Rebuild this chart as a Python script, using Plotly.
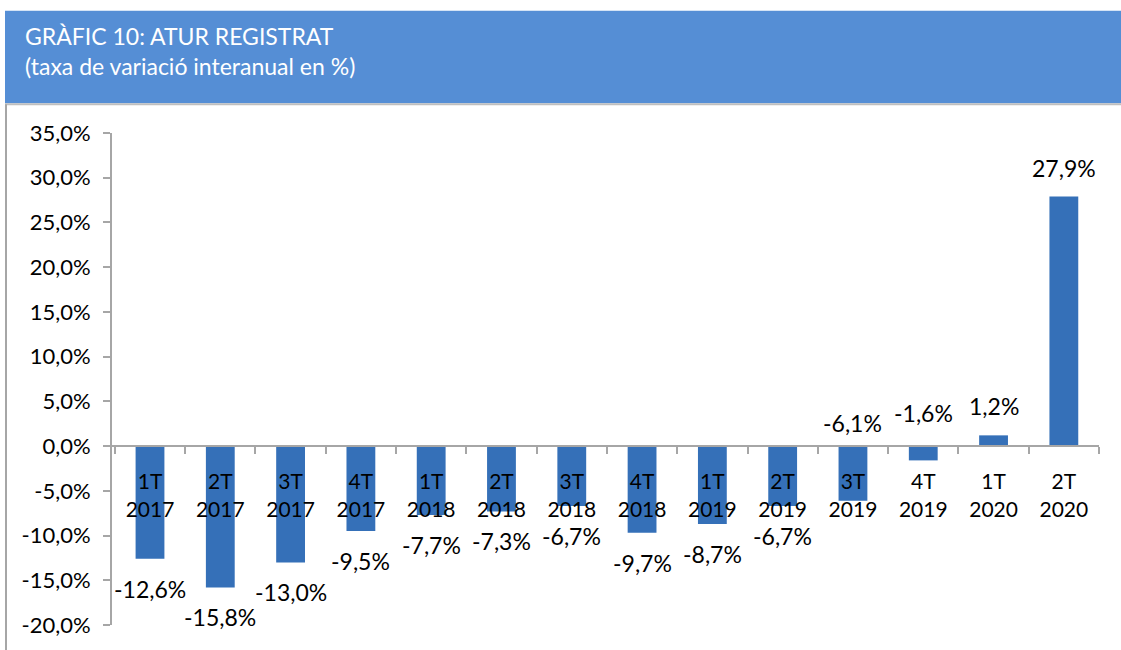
import plotly.graph_objects as go

quarters = ["1T", "2T", "3T", "4T", "1T", "2T", "3T", "4T", "1T", "2T", "3T", "4T", "1T", "2T"]
years = ["2017", "2017", "2017", "2017", "2018", "2018", "2018", "2018",
         "2019", "2019", "2019", "2019", "2020", "2020"]
values = [-12.6, -15.8, -13.0, -9.5, -7.7, -7.3, -6.7, -9.7, -8.7, -6.7, -6.1, -1.6, 1.2, 27.9]
y_ticks = [35, 30, 25, 20, 15, 10, 5, 0, -5, -10, -15, -20]

categories = [f"{q}<br>{y}" for q, y in zip(quarters, years)]

def fmt(v):
    return f"{v:.1f}".replace(".", ",") + "%"

FONT = "Lato, 'Noto Sans', sans-serif"
L, R, T, B = 112, 22, 133, 22
PW, PH = 1121 - L - R, 650 - T - B

def px_x(px):
    return (px - L) / PW

def px_y(py):
    return (650 - B - py) / PH

fig = go.Figure()
fig.add_trace(go.Bar(
    x=categories, y=values,
    marker=dict(color="#3570B8", line=dict(width=0)),
    width=0.41,
    hoverinfo="x+y",
))

# data labels
labels_above_zero = {10: 7, 11: 17}
for i, (c, v) in enumerate(zip(categories, values)):
    if v >= 0:
        fig.add_annotation(x=c, y=v, text=fmt(v), showarrow=False,
                           yanchor="bottom", yshift=13,
                           font=dict(family=FONT, size=23, color="#000000"))
    elif i in labels_above_zero:
        fig.add_annotation(x=c, y=0, text=fmt(v), showarrow=False,
                           yanchor="bottom", yshift=labels_above_zero[i],
                           font=dict(family=FONT, size=23, color="#000000"))
    else:
        fig.add_annotation(x=c, y=v, text=fmt(v), showarrow=False,
                           yanchor="top", yshift=-14,
                           font=dict(family=FONT, size=23, color="#000000"))

# header band
fig.add_shape(type="rect", xref="paper", yref="paper",
              x0=px_x(5), x1=px_x(1125), y0=px_y(103), y1=px_y(10),
              fillcolor="#558ED5", line=dict(width=0), layer="below")
fig.add_shape(type="line", xref="paper", yref="paper",
              x0=px_x(5), x1=px_x(1125), y0=px_y(104), y1=px_y(104),
              line=dict(color="#BFBFBF", width=2))
fig.add_shape(type="line", xref="paper", yref="paper",
              x0=px_x(6), x1=px_x(6), y0=px_y(660), y1=px_y(104),
              line=dict(color="#A6A6A6", width=2))
fig.add_annotation(xref="paper", yref="paper", x=px_x(23), y=px_y(19),
                   xanchor="left", yanchor="top", align="left", showarrow=False,
                   text="GRÀFIC 10: ATUR REGISTRAT<br>(taxa de variació interanual en %)",
                   font=dict(family=FONT, size=23, color="#FFFFFF"))

fig.update_layout(
    width=1121, height=650,
    margin=dict(l=L, r=R, t=T, b=B),
    paper_bgcolor="#FFFFFF", plot_bgcolor="#FFFFFF",
    showlegend=False,
    bargap=0.59,
    font=dict(family=FONT, size=21, color="#000000"),
)
fig.update_xaxes(
    type="category", anchor="free", position=20/55,
    showline=True, linecolor="#A6A6A6", linewidth=2,
    ticks="outside", tickson="boundaries", ticklen=7, tickcolor="#A6A6A6", tickwidth=2,
    showgrid=False, tickfont=dict(family=FONT, size=21, color="#000000"),
    ticklabelstandoff=17,
)
fig.update_yaxes(
    range=[-20, 35], tickvals=y_ticks, ticktext=[fmt(v) for v in y_ticks],
    showline=True, linecolor="#A6A6A6", linewidth=2,
    ticks="outside", ticklen=7, tickcolor="#A6A6A6", tickwidth=2,
    showgrid=False, zeroline=False,
    tickfont=dict(family=FONT, size=22, color="#000000"),
    ticklabelstandoff=8,
)
fig.write_html("out.html", config={"displayModeBar": False},
               post_script="document.body.style.margin='0';")
